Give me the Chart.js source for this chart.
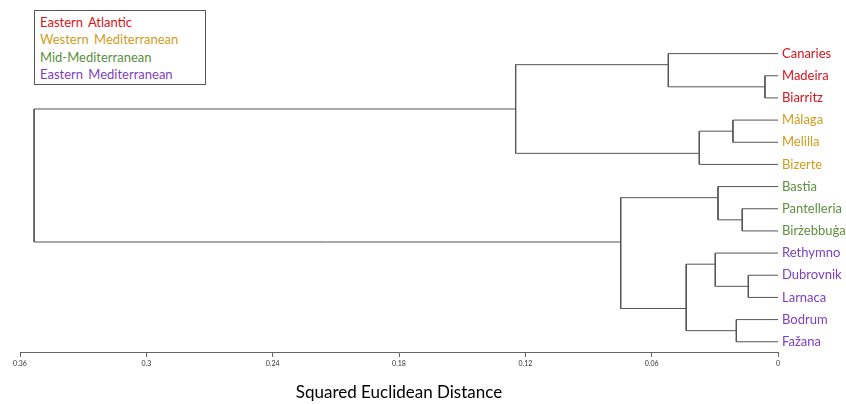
<!DOCTYPE html>
<html>
<head>
<meta charset="utf-8">
<script src="https://cdn.jsdelivr.net/npm/chart.js@4.4.1/dist/chart.umd.min.js"></script>
<style>
  body { margin: 0; background: #fff; }
  #wrap { position: relative; width: 846px; height: 404px; }
  #legend {
    position: absolute; left: 34px; top: 10px; width: 172px; height: 75px;
    border: 1px solid #555; background: #fff;
    font-family: Lato, "Noto Sans", sans-serif; font-size: 13px; line-height: 17.3px;
    padding: 3px 0 0 5px; box-sizing: border-box; word-spacing: 2px;
  }
</style>
</head>
<body>
<div id="wrap">
  <canvas id="dendro" width="846" height="404"></canvas>
  <div id="legend"></div>
</div>
<script>
// Leaves, top to bottom
var leaves = ['Canaries', 'Madeira', 'Biarritz', 'Málaga', 'Melilla', 'Bizerte', 'Bastia',
  'Pantelleria', 'Birżebbuġa', 'Rethymno', 'Dubrovnik', 'Larnaca', 'Bodrum', 'Fažana'];
var leafGroup = [0, 0, 0, 1, 1, 1, 2, 2, 2, 3, 3, 3, 3, 3];

var groups = ['Eastern Atlantic', 'Western Mediterranean', 'Mid-Mediterranean', 'Eastern Mediterranean'];
var groupColors = ['#da121c', '#cf9d1c', '#5b8f3e', '#7d3fc2'];

// Linkage: [left node, right node, distance]; nodes 0-13 are leaves, merges are 14, 15, ...
var merges = [
  [1, 2, 0.0062],    // 14 Madeira + Biarritz
  [0, 14, 0.0521],   // 15 Canaries
  [3, 4, 0.0214],    // 16 Málaga + Melilla
  [16, 5, 0.0374],   // 17 Bizerte
  [15, 17, 0.1246],  // 18
  [7, 8, 0.0170],    // 19 Pantelleria + Birżebbuġa
  [6, 19, 0.0285],   // 20 Bastia
  [10, 11, 0.0141],  // 21 Dubrovnik + Larnaca
  [9, 21, 0.0298],   // 22 Rethymno
  [12, 13, 0.0198],  // 23 Bodrum + Fažana
  [22, 23, 0.0436],  // 24
  [20, 24, 0.0747],  // 25
  [18, 25, 0.3533]   // 26 root
];

var xTicks = [0.36, 0.3, 0.24, 0.18, 0.12, 0.06, 0];
var xTitle = 'Squared Euclidean Distance';

// legend box
document.getElementById('legend').innerHTML = groups.map(function (g, i) {
  return '<div style="color:' + groupColors[i] + '">' + g + '</div>';
}).join('');

// node info: first/last leaf index, position, height
var nodes = leaves.map(function (l, i) { return { first: i, last: i, pos: i, h: 0 }; });
var datasets = [];
merges.forEach(function (m) {
  var a = nodes[m[0]], b = nodes[m[1]];
  nodes.push({ first: a.first, last: b.last, pos: (a.last + b.first) / 2, h: m[2] });
  datasets.push({
    data: [{ x: a.h, y: a.pos }, { x: m[2], y: a.pos }, { x: m[2], y: b.pos }, { x: b.h, y: b.pos }],
    showLine: true,
    borderColor: '#555',
    borderWidth: 1,
    pointRadius: 0,
    fill: false
  });
});

new Chart(document.getElementById('dendro').getContext('2d'), {
  type: 'scatter',
  data: { datasets: datasets },
  options: {
    responsive: false,
    animation: false,
    layout: { padding: { left: 20, top: 10, right: 0, bottom: 0 } },
    plugins: { legend: { display: false }, tooltip: { enabled: false } },
    scales: {
      x: {
        type: 'linear',
        reverse: true,
        min: 0,
        max: 0.36,
        afterBuildTicks: function (scale) {
          scale.ticks = xTicks.map(function (v) { return { value: v }; });
        },
        afterFit: function (scale) { scale.height = 52; },
        ticks: {
          autoSkip: false,
          maxRotation: 0,
          padding: 3,
          color: '#333',
          font: { family: 'Lato, "Noto Sans", sans-serif', size: 7 },
          callback: function (v) { return String(v); }
        },
        grid: { drawOnChartArea: false, drawTicks: true, tickLength: 5, color: '#666' },
        border: { display: true, color: '#666' },
        title: {
          display: true,
          text: xTitle,
          color: '#000',
          font: { family: 'Lato, "Noto Sans", sans-serif', size: 17 },
          padding: { top: 0, bottom: 1 }
        }
      },
      y: {
        type: 'linear',
        position: 'right',
        reverse: true,
        min: -1.885,
        max: 13.462,
        afterBuildTicks: function (scale) {
          scale.ticks = leaves.map(function (l, i) { return { value: i }; });
        },
        afterFit: function (scale) { scale.width = 68; },
        ticks: {
          autoSkip: false,
          padding: 4,
          font: { family: 'Lato, "Noto Sans", sans-serif', size: 13 },
          color: function (ctx) { return groupColors[leafGroup[ctx.tick.value]] || '#000'; },
          callback: function (v) { return leaves[v]; }
        },
        grid: { display: false, drawTicks: false },
        border: { display: false }
      }
    }
  }
});
</script>
</body>
</html>
